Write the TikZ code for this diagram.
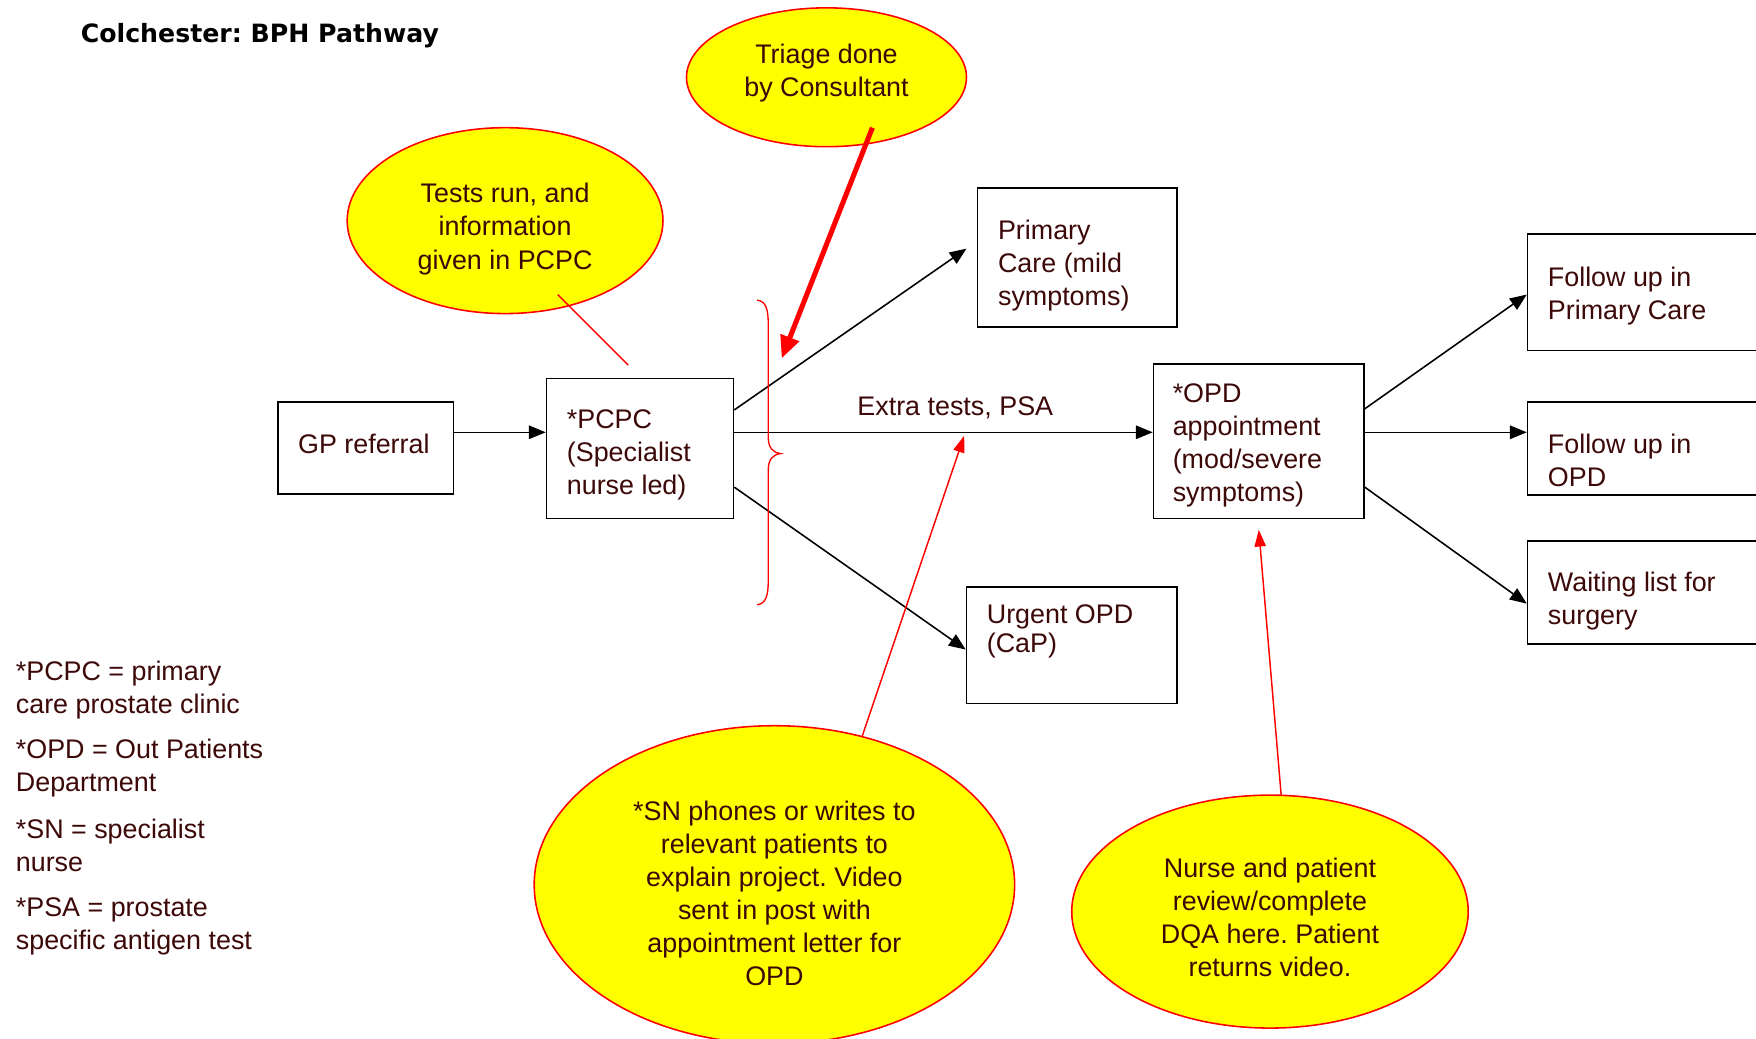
\documentclass[tikz,border=0pt]{standalone}
\usepackage{fontspec}
\setmainfont{Liberation Sans}
\newfontfamily\titlefont{DejaVu Sans}
\usetikzlibrary{arrows.meta,shapes.geometric,fit}
\definecolor{ink}{RGB}{60,8,8}
\definecolor{callout}{RGB}{255,255,0}
\definecolor{edge}{RGB}{255,0,0}

\begin{document}
\frenchspacing
\begin{tikzpicture}[x=1pt,y=-1pt,
  box/.style={draw=black, line width=1.4pt, fill=white, inner sep=0pt},
  txt/.style={text=ink, font=\fontsize{24}{29.5}\selectfont, align=left, inner sep=0pt, anchor=west},
  bubble/.style={ellipse, draw=edge, line width=1.4pt, fill=callout, inner sep=0pt},
  bubbletxt/.style={txt, align=center, anchor=center},
  flow/.style={draw=black, line width=1.4pt, -{Triangle[length=15pt,width=12pt]}},
  note/.style={draw=edge, line width=1.3pt},
  notearr/.style={note, -{Triangle[length=15pt,width=10pt]}},
  triagearr/.style={draw=edge, line width=4.5pt, -{Triangle[length=20pt,width=17pt]}}
]
\useasboundingbox (0,0) rectangle (1568,927);
\clip (0,0) rectangle (1568,927);
\fill[white] (0,0) rectangle (1568,927);

% heading
\node[anchor=base west, inner sep=0pt, text=black,
  font=\titlefont\bfseries\fontsize{22.5}{27}\selectfont] (title) at (72,38) {Colchester: BPH Pathway};

% process boxes
\node[box, fit={(248,359) (405,441)}] (gp) {};
\node[box, fit={(488,338) (655,463)}] (pcpc) {};
\node[box, fit={(873,168) (1051,292)}] (pc) {};
\node[box, fit={(863,524) (1051,628)}] (urg) {};
\node[box, fit={(1030,325) (1218,463)}] (opd) {};
\node[box, fit={(1364,209) (1620,313)}] (fup) {};
\node[box, fit={(1364,359) (1620,442)}] (fuo) {};
\node[box, fit={(1364,483) (1620,575)}] (wl) {};

% box texts
\node[txt] (gp-t) at (266,396.5) {GP referral};
\node[txt] (pcpc-t) at (506,406.5) {*PCPC\\(Specialist\\nurse led)};
\node[txt] (pc-t) at (891,237.5) {Primary\\Care (mild\\symptoms)};
\node[txt, font=\fontsize{24}{26}\selectfont] (urg-t) at (881,564) {Urgent OPD\\(CaP)};
\node[txt] (opd-t) at (1047,398) {*OPD\\appointment\\(mod/severe\\symptoms)};
\node[txt] (fup-t) at (1382,264) {Follow up in\\Primary Care};
\node[txt] (fuo-t) at (1382,411.5) {Follow up in\\OPD};
\node[txt] (wl-t) at (1382,536.5) {Waiting list for\\surgery};

% flow arrows
\coordinate (pc-in) at (863,222);
\draw[flow] (gp.east |- 0,386) -- (pcpc.west |- 0,386);
\draw[flow] (pcpc.east |- 0,366) -- (pc-in);
\draw[flow] (pcpc.east |- 0,386) -- (opd.west |- 0,386);
\draw[flow] (pcpc.east |- 0,435) -- (urg.west |- 0,580);
\draw[flow] (opd.east |- 0,365) -- (fup.west |- 0,263);
\draw[flow] (opd.east |- 0,386) -- (fuo.west |- 0,386);
\draw[flow] (opd.east |- 0,435) -- (wl.west |- 0,539);
\node[txt, anchor=center] (extra) at (853,364) {Extra tests, PSA};

% brace grouping the three PCPC outcomes
\draw[note, line width=1.2pt] (676,268) .. controls (684,269) and (686,276) .. (686,290)
  -- (686,390) .. controls (686,400) and (690,404) .. (697,405)
  .. controls (690,406) and (686,410) .. (686,420)
  -- (686,518) .. controls (686,532) and (684,539) .. (676,540);

% callouts
\node[bubble, minimum width=250pt, minimum height=124pt] (triage) at (738,69) {};
\node[bubbletxt] (triage-t) at (738,65.5) {Triage done\\by Consultant};
\node[bubble, minimum width=282pt, minimum height=166pt] (tests) at (451,197) {};
\node[bubbletxt] (tests-t) at (451,204.5) {Tests run, and\\information\\given in PCPC};
\node[bubble, minimum width=429pt, minimum height=284pt] (sn) at (691.5,790) {};
\node[bubbletxt] (sn-t) at (691.5,798)
  {*SN phones or writes to\\relevant patients to\\explain project. Video\\sent in post with\\appointment letter for\\OPD};
\node[bubble, minimum width=354pt, minimum height=208pt] (nurse) at (1134,814) {};
\node[bubbletxt] (nurse-t) at (1134,819)
  {Nurse and patient\\review/complete\\DQA here. Patient\\returns video.};

% callout pointers
\coordinate (tests-foot) at (498,263);
\coordinate (pcpc-top) at (561,326);
\coordinate (triage-foot) at (779,114);
\coordinate (brace-top) at (698,320);
\coordinate (sn-top) at (770,657);
\coordinate (extra-line) at (861,389);
\coordinate (nurse-top) at (1144,710);
\coordinate (opd-below) at (1124,473);
\draw[note] (tests-foot) -- (pcpc-top);
\draw[triagearr] (triage-foot) -- (brace-top);
\draw[notearr] (sn-top) -- (extra-line);
\draw[notearr] (nurse-top) -- (opd-below);

% key to abbreviations
\node[txt] (key1) at (14,616) {*PCPC = primary\\care prostate clinic};
\node[txt] (key2) at (14,686) {*OPD = Out Patients\\Department};
\node[txt] (key3) at (14,755) {*SN = specialist\\nurse};
\node[txt] (key4) at (14,827) {*PSA = prostate\\specific antigen test};
\end{tikzpicture}
\end{document}
